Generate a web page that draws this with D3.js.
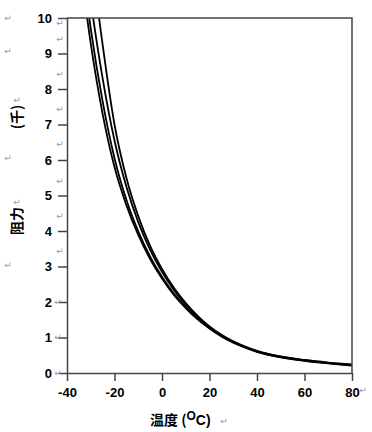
<!DOCTYPE html>
<html>
<head>
<meta charset="utf-8">
<script src="https://cdn.jsdelivr.net/npm/d3@7"></script>
<style>
  body { margin: 0; background: #fff; }
  .tick text { font-family: "Liberation Sans", Arial, sans-serif; font-weight: bold; font-size: 13px; fill: #000; }
  .mark { font-family: "DejaVu Sans", sans-serif; font-size: 9px; fill: #999; }
</style>
</head>
<body>
<script>
// chart values
var temps = [-35, -30, -25, -20, -15, -10, -5, 0, 5, 10, 15, 20, 25, 30, 35, 40, 50, 60, 70, 80]
var curveA = [11.8, 9.28, 7.30, 5.80, 4.73, 3.89, 3.21, 2.66, 2.20, 1.83, 1.51, 1.25, 1.03, 0.855, 0.715, 0.595, 0.44, 0.342, 0.27, 0.205]
var curveB = [12.3, 9.7, 7.65, 6.05, 4.88, 3.99, 3.28, 2.71, 2.24, 1.86, 1.54, 1.27, 1.045, 0.865, 0.725, 0.605, 0.448, 0.35, 0.278, 0.215]
var curveC = [13.4, 10.5, 8.3, 6.55, 5.25, 4.25, 3.47, 2.85, 2.34, 1.92, 1.58, 1.30, 1.07, 0.88, 0.74, 0.62, 0.46, 0.36, 0.288, 0.23]
var curveD = [15.3, 11.9, 9.25, 7.0, 5.5, 4.42, 3.58, 2.93, 2.40, 1.97, 1.61, 1.31, 1.075, 0.89, 0.745, 0.625, 0.465, 0.366, 0.295, 0.242]
var xTicks = [-40, -20, 0, 20, 40, 60, 80]
var yTicks = [0, 1, 2, 3, 4, 5, 6, 7, 8, 9, 10]

var w = 372, h = 432
var padLeft = 67, padRight = 352, padTop = 18, padBottom = 373 //plot edges in pixels

var svg = d3.select('body').append('svg')
    .attr('width', w)
    .attr('height', h)

var x = d3.scaleLinear().domain([-40, 80]).range([padLeft, padRight])
var y = d3.scaleLinear().domain([0, 10]).range([padBottom, padTop])

//clip so the curves stop at the top frame
svg.append('clipPath').attr('id', 'plot')
    .append('rect')
    .attr('x', padLeft).attr('y', padTop)
    .attr('width', padRight - padLeft).attr('height', padBottom - padTop)

var line = d3.line()
    .x(function(d) { return x(d[0]) })
    .y(function(d) { return y(d[1]) })
    .curve(d3.curveMonotoneX)

var series = [curveA, curveB, curveC, curveD]

svg.append('g').attr('clip-path', 'url(#plot)')
    .selectAll('path')
    .data(series)
    .enter()
    .append('path')
    .attr('d', function(vals) {
        return line(temps.map(function(t, i) { return [t, vals[i]] }))
    })
    .attr('fill', 'none')
    .attr('stroke', '#000')
    .attr('stroke-width', 1.8)

//axes
var axisColor = '#444'
var plain = function(d) { return String(d) } //keep the ascii hyphen for negatives

svg.append('g')
    .attr('transform', 'translate(' + padLeft + ',0)')
    .call(d3.axisLeft(y).tickValues(yTicks).tickFormat(plain).tickSize(9).tickSizeOuter(0).tickPadding(6))
svg.append('g')
    .attr('transform', 'translate(0,' + padBottom + ')')
    .call(d3.axisBottom(x).tickValues(xTicks).tickFormat(plain).tickSize(8).tickSizeOuter(0).tickPadding(7))

svg.selectAll('.domain, .tick line')
    .attr('stroke', axisColor)
    .attr('stroke-width', 1.5)

//frame: top and right edges
svg.append('path')
    .attr('d', 'M' + padLeft + ',' + padTop + 'H' + padRight + 'V' + padBottom)
    .attr('fill', 'none')
    .attr('stroke', axisColor)
    .attr('stroke-width', 1.5)

//axis titles
var xt = svg.append('text')
    .attr('x', 150).attr('y', 425)
    .style('font-family', '"Noto Sans CJK SC", sans-serif')
    .style('font-weight', 'bold')
    .style('font-size', '14px')
xt.append('tspan').text('温度 (')
xt.append('tspan').attr('dy', -5).style('font-size', '12px')
    .style('font-family', '"Liberation Sans", Arial, sans-serif').text('O')
xt.append('tspan').attr('dy', 5)
    .style('font-family', '"Liberation Sans", Arial, sans-serif').text('C)')

function yTitle(txt, cy) {
    svg.append('text')
        .attr('transform', 'translate(22,' + cy + ') rotate(-90)')
        .attr('text-anchor', 'middle')
        .style('font-family', '"Noto Sans CJK SC", sans-serif')
        .style('font-weight', 'bold')
        .style('font-size', '14px')
        .text(txt)
}
yTitle('(千)', 117)
yTitle('阻力', 221)

//stray paragraph marks in the source picture
var marks = [[8, 18], [8, 51], [8, 158], [8, 265], [17, 100], [17, 202],
    [60, 23], [60, 39], [60, 74], [60, 109], [60, 144], [60, 181], [60, 216], [60, 251],
    [58, 302], [58, 337], [58, 373], [363, 390], [224, 421]]
svg.selectAll('.mark')
    .data(marks)
    .enter()
    .append('text')
    .attr('class', 'mark')
    .attr('x', function(d) { return d[0] })
    .attr('y', function(d) { return d[1] + 3 })
    .attr('text-anchor', 'middle')
    .text('↵')
</script>
</body>
</html>
